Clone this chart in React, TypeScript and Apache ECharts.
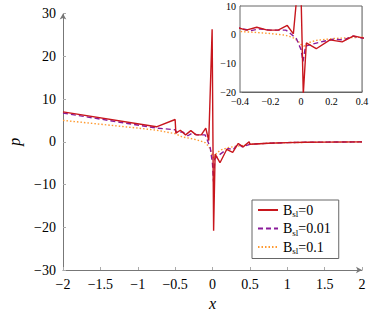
import React, { useEffect, useRef } from "react";
import * as echarts from "echarts";

const redX = [-2, -0.75, -0.5, -0.49, -0.43, -0.36, -0.29, -0.22, -0.15, -0.09, -0.05, -0.005, 0.015, 0.035, 0.1, 0.19, 0.27, 0.345, 0.41, 0.49, 0.5, 0.75, 1, 1.25, 1.5, 2];
const redY = [7.0, 3.5, 5.2, 2.0, 2.7, 1.6, 2.6, 1.6, 1.6, 3.2, 0.3, 26.3, -20.8, -2.9, -4.9, -1.8, -2.5, -0.4, -1.2, 0.0, -0.6, -0.35, -0.2, -0.12, -0.08, -0.03];

const purX = [-2, -0.75, -0.5, -0.48, -0.4, -0.33, -0.27, -0.2, -0.1, -0.08, -0.03, 0, 0.013, 0.03, 0.08, 0.15, 0.21, 0.28, 0.34, 0.4, 0.5, 0.75, 1, 1.25, 1.5, 2];
const purY = [6.7, 3.2, 2.8, 2.2, 2.3, 1.4, 2.0, 1.6, 1.6, 0.9, -1.4, -5.2, -9.3, -4.0, -3.2, -2.3, -1.6, -1.8, -0.5, -1.2, -0.6, -0.35, -0.2, -0.12, -0.08, -0.03];

const oraX = [-2, -1.5, -1, -0.75, -0.5, -0.4, -0.3, -0.2, -0.1, -0.05, -0.02, 0, 0.02, 0.05, 0.1, 0.2, 0.3, 0.4, 0.5, 0.75, 1, 1.5, 2];
const oraY = [5.0, 4.1, 3.2, 2.7, 1.9, 1.1, 0.8, 0.4, -0.2, -1.1, -2.2, -3.4, -4.0, -2.8, -2.0, -1.4, -1.1, -0.9, -0.6, -0.35, -0.2, -0.1, -0.05];

const seriesNames = ["B_sl=0", "B_sl=0.01", "B_sl=0.1"];
const legendValues = ["0", "0.01", "0.1"];
const colors = ["#c8161d", "#8a1a9a", "#ff9a30"];
const lineTypes: any[] = ["solid", [5, 3], [1.5, 2]];

const fmt = (v: number) => {
  const r = Math.round(v * 100) / 100;
  return (r < 0 ? "\u2212" : "") + String(Math.abs(r));
};

const FONT = "Liberation Serif";

export default function App() {
  const ref = useRef<HTMLDivElement>(null);
  useEffect(() => {
    if (!ref.current) return;
    const chart = echarts.init(ref.current, null, { renderer: "svg" });
    const pairs = (xs: number[], ys: number[]) => xs.map((x, i) => [x, ys[i]]);
    const datas = [pairs(redX, redY), pairs(purX, purY), pairs(oraX, oraY)];
    const mkSeries = (idx: number, axis: number) => ({
      type: "line",
      name: seriesNames[idx],
      xAxisIndex: axis,
      yAxisIndex: axis,
      data: datas[idx],
      showSymbol: false,
      symbol: "none",
      clip: true,
      z: 10 - idx,
      lineStyle: { color: colors[idx], width: 1.4, type: lineTypes[idx] },
      itemStyle: { color: colors[idx] },
    });
    const axisLabelMain = { color: "#000", fontFamily: FONT, fontSize: 14 };
    const axisLabelInset = { color: "#000", fontFamily: FONT, fontSize: 10 };
    chart.setOption({
      animation: false,
      backgroundColor: "#fff",
      textStyle: { fontFamily: FONT },
      grid: [
        { left: 63, right: 12, top: 13.5, bottom: 41, outerBoundsMode: "none", containLabel: false },
        { left: 240, top: 6, width: 122, height: 86, show: true, backgroundColor: "#fff", borderColor: "#666", borderWidth: 1, z: 5, outerBoundsMode: "none", containLabel: false },
      ],
      legend: {
        data: seriesNames,
        left: 252,
        top: 200,
        orient: "vertical",
        itemWidth: 20,
        itemHeight: 10,
        itemGap: 3,
        padding: [3, 8, 3, 5],
        borderColor: "#666",
        borderWidth: 1,
        backgroundColor: "#fff",
        z: 20,
        itemStyle: { opacity: 0 },
        formatter: (name: string) => {
          const i = seriesNames.indexOf(name);
          return "{a|B}{s|sl}{a|=" + legendValues[i] + "}";
        },
        textStyle: {
          color: "#000",
          fontFamily: FONT,
          fontSize: 14,
          rich: {
            a: { fontFamily: FONT, fontSize: 14, color: "#000" },
            s: { fontFamily: FONT, fontSize: 9, color: "#000", verticalAlign: "bottom", padding: [8, 0, 0, 0] },
          },
        },
      },
      xAxis: [
        {
          type: "value",
          gridIndex: 0,
          min: -2,
          max: 2,
          interval: 0.5,
          name: "x",
          nameLocation: "middle",
          nameGap: 16,
          nameTextStyle: { fontFamily: FONT, fontStyle: "italic", fontSize: 16, color: "#000" },
          axisLine: { show: true, onZero: false, symbol: ["none", "arrow"], symbolSize: [5, 6], lineStyle: { color: "#777", width: 1 } },
          axisTick: { show: true, inside: true, length: 3, lineStyle: { color: "#aaa" } },
          axisLabel: { ...axisLabelMain, margin: 7, formatter: fmt },
          splitLine: { show: false },
        },
        {
          type: "value",
          gridIndex: 1,
          min: -0.4,
          max: 0.4,
          interval: 0.2,
          axisLine: { show: true, onZero: false, lineStyle: { color: "#666" } },
          axisTick: { show: true, inside: true, length: 2, lineStyle: { color: "#aaa" } },
          axisLabel: { ...axisLabelInset, margin: 4, formatter: fmt },
          splitLine: { show: true, lineStyle: { color: "#dcdcdc", width: 1 } },
        },
      ],
      yAxis: [
        {
          type: "value",
          gridIndex: 0,
          min: -30,
          max: 30,
          interval: 10,
          name: "p",
          nameLocation: "middle",
          nameGap: 41,
          nameRotate: 90,
          nameTextStyle: { fontFamily: FONT, fontStyle: "italic", fontSize: 16, color: "#000" },
          axisLine: { show: true, onZero: false, symbol: ["none", "arrow"], symbolSize: [5, 6], lineStyle: { color: "#777", width: 1 } },
          axisTick: { show: true, inside: true, length: 3, lineStyle: { color: "#aaa" } },
          axisLabel: { ...axisLabelMain, margin: 7, formatter: fmt },
          splitLine: { show: false },
        },
        {
          type: "value",
          gridIndex: 1,
          min: -20,
          max: 10,
          interval: 10,
          axisLine: { show: true, onZero: false, lineStyle: { color: "#666" } },
          axisTick: { show: true, inside: true, length: 2, lineStyle: { color: "#aaa" } },
          axisLabel: { ...axisLabelInset, margin: 4, formatter: fmt },
          splitLine: { show: true, lineStyle: { color: "#dcdcdc", width: 1 } },
        },
      ],
      series: [0, 1, 2].map((i) => mkSeries(i, 0)).concat([0, 1, 2].map((i) => mkSeries(i, 1))),
    });
    return () => chart.dispose();
  }, []);
  return <div ref={ref} style={{ position: "fixed", left: 0, top: 0, width: 374, height: 311 }} />;
}
